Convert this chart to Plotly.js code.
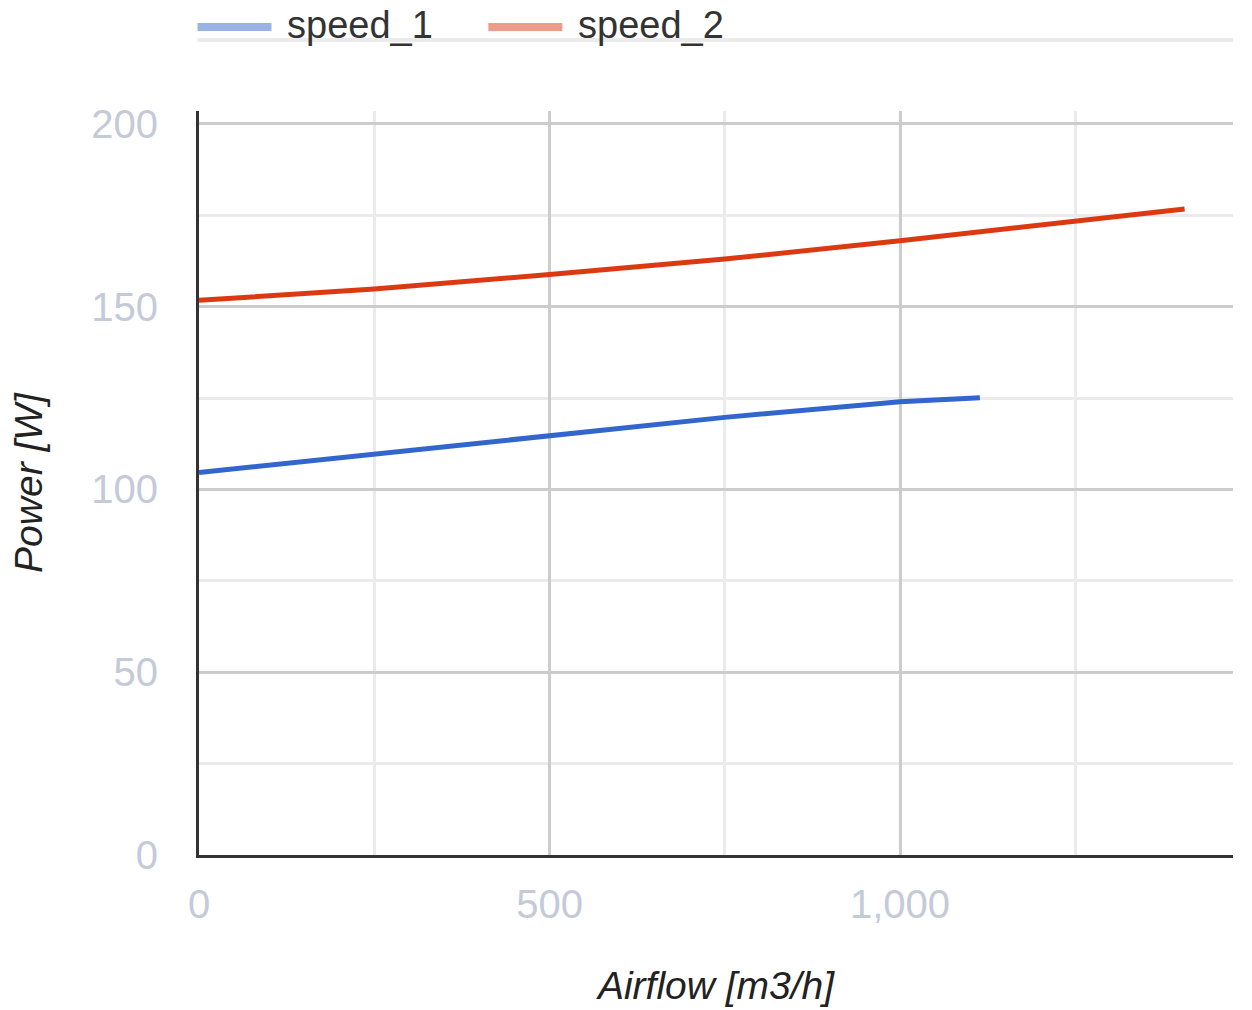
<!DOCTYPE html>
<html>
<head>
<meta charset="utf-8">
<script src="https://cdn.plot.ly/plotly-3.0.1.min.js"></script>
<style>html,body{margin:0;padding:0;background:#fff;}#chart{width:1252px;height:1010px;}</style>
</head>
<body>
<div id="chart"></div>
<script>
// Data
const seriesNames = ["speed_1", "speed_2"];
const speed1Airflow = [0, 250, 500, 750, 1000, 1114];
const speed1Power   = [104.6, 109.7, 114.9, 119.7, 124.0, 125.1];
const speed2Airflow = [0, 250, 500, 750, 1000, 1250, 1406];
const speed2Power   = [151.7, 154.8, 158.8, 163.0, 168.0, 173.5, 176.7];
const lineColors = ["#3366cc", "#dc3912"];
const legendColors = ["#99b3e6", "#ee9c89"];

const FONT = "Liberation Sans, Arial, sans-serif";
const W = 1252, H = 1010;
const L = 198.5, R = 19, T = 111, B = 155;
const pw = W - L - R, ph = H - T - B;
const px = x => (x - L) / pw;
const py = y => (H - B - y) / ph;

const traces = [
  {x: speed1Airflow, y: speed1Power, name: seriesNames[0], type: "scatter", mode: "lines",
   line: {color: lineColors[0], width: 5}},
  {x: speed2Airflow, y: speed2Power, name: seriesNames[1], type: "scatter", mode: "lines",
   line: {color: lineColors[1], width: 5}}
];

const legendX = [[197, 271, 285], [488, 562, 576]];
const shapes = [
  {type: "line", xref: "paper", yref: "paper", x0: px(197), x1: 1, y0: py(40), y1: py(40),
   line: {color: "#ebebeb", width: 4}, layer: "below"}
];
const annotations = [];
seriesNames.forEach((n, i) => {
  shapes.push({type: "line", xref: "paper", yref: "paper", x0: px(legendX[i][0]), x1: px(legendX[i][1]),
    y0: py(27), y1: py(27), line: {color: legendColors[i], width: 8}});
  annotations.push({text: n, xref: "paper", yref: "paper", x: px(legendX[i][2]), y: py(25),
    xanchor: "left", yanchor: "middle", showarrow: false,
    font: {family: FONT, size: 38, color: "#333"}});
});

const layout = {
  width: W, height: H,
  margin: {l: L, r: R, t: T, b: B, pad: 0},
  paper_bgcolor: "#fff", plot_bgcolor: "#fff",
  showlegend: false,
  font: {family: FONT},
  xaxis: {
    range: [0, 1475], dtick: 500, tick0: 0, tickformat: ",d",
    showgrid: true, gridcolor: "#cccccc", gridwidth: 3,
    minor: {dtick: 250, showgrid: true, gridcolor: "#ebebeb", gridwidth: 3},
    showline: true, linecolor: "#333333", linewidth: 3, zeroline: false,
    ticks: "", ticklabelstandoff: 12,
    tickfont: {family: FONT, size: 40, color: "#c5cad8"},
    title: {text: "Airflow [m3/h]", standoff: 47, font: {family: FONT, size: 39, color: "#222", style: "italic"}},
    automargin: false, fixedrange: true
  },
  yaxis: {
    range: [0, 203.5], dtick: 50, tick0: 0,
    showgrid: true, gridcolor: "#cccccc", gridwidth: 3,
    minor: {dtick: 25, showgrid: true, gridcolor: "#ebebeb", gridwidth: 3},
    showline: true, linecolor: "#333333", linewidth: 3, zeroline: false,
    ticks: "", ticklabelstandoff: 30,
    tickfont: {family: FONT, size: 40, color: "#c5cad8"},
    title: {text: "Power [W]", standoff: 37, font: {family: FONT, size: 39, color: "#222", style: "italic"}},
    automargin: false, fixedrange: true
  },
  shapes: shapes,
  annotations: annotations
};

Plotly.newPlot("chart", traces, layout, {displayModeBar: false, staticPlot: true});
</script>
</body>
</html>
